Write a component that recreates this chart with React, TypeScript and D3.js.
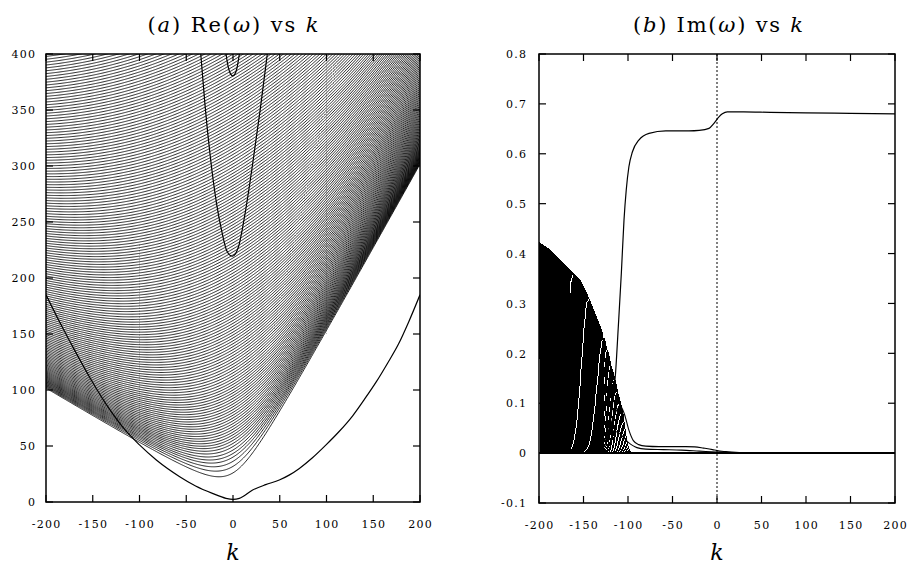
import React, { useMemo } from "react";
import * as d3 from "d3";

// ---------- axes ----------
const kTicks = [-200, -150, -100, -50, 0, 50, 100, 150, 200];
const reTicks = [0, 50, 100, 150, 200, 250, 300, 350, 400];
const imTicks = [-0.1, 0, 0.1, 0.2, 0.3, 0.4, 0.5, 0.6, 0.7, 0.8];
const imTickLabels = ["-0.1", "0", "0.1", "0.2", "0.3", "0.4", "0.5", "0.6", "0.7", "0.8"];

// ---------- panel (a): Re(omega) ----------
// drift speed of the mode family (asymptotic slopes -0.5 / +1.5)
const flowSpeed = 0.5;
// cut-off parameter of each branch of the family, read from the minima / edge crossings
const modeMass = [
  26.0, 31.8, 36.3, 40.1, 43.3, 46.4, 49.5, 52.3, 55.0, 57.5,
  60.0, 62.5, 65.0, 67.5, 70.0, 72.5, 75.0, 77.5, 80.0, 82.5,
  85.0, 87.5, 90.0, 92.5, 95.0, 97.5, 100.0, 102.5, 105.0, 107.5,
  110.1, 112.7, 115.3, 117.9, 120.5, 123.1, 125.7, 128.3, 130.9, 133.5,
  136.1, 138.7, 141.3, 143.9, 146.5, 149.1, 151.7, 154.3, 156.9, 159.5,
  162.1, 164.7, 167.3, 169.9, 172.5, 175.1, 177.7, 180.3, 182.9, 185.5,
  188.2, 190.9, 193.6, 196.3, 199.0, 201.7, 204.4, 207.1, 209.8, 212.5,
  215.2, 217.9, 220.6, 223.3, 226.0, 228.7, 231.4, 234.1, 236.8, 239.5,
  242.2, 244.9, 247.6, 250.3, 253.0, 255.7, 258.4, 261.1, 263.8, 266.5,
  269.2, 271.9, 274.6, 277.3, 280.0, 282.7, 285.4, 288.1, 290.8, 293.5,
  296.3, 299.1, 301.9, 304.7, 307.5, 310.3, 313.1, 315.9, 318.7, 321.5,
  324.3, 327.1, 329.9, 332.7, 335.5, 338.3, 341.1, 343.9, 346.7, 349.5,
  352.3, 355.1, 357.9, 360.7, 363.5, 366.3, 369.1, 371.9, 374.7, 377.5,
  380.3, 383.1, 385.9, 388.7, 391.5, 394.3, 397.1, 399.9, 402.7, 405.5,
  408.3, 411.1, 413.9, 416.7, 419.5, 422.3, 425.1, 427.9, 430.7, 433.5,
  436.3, 439.1, 441.9, 444.7, 447.5, 450.3, 453.1, 455.9, 458.7, 461.5,
];
// lowest (V-shaped) branch
const vBranchK = [-200, -185, -170, -153, -135, -114, -100, -82, -57, -40, -22, -7.5, 0, 6.8, 21, 35, 49.5, 60, 71, 85, 99.5, 113, 128, 140, 153, 165, 177, 188, 200];
const vBranchRe = [185, 160, 136.5, 111, 86.5, 63, 51, 37.5, 22.6, 14.3, 7.7, 3.3, 2.4, 3.3, 10.7, 15.5, 19.6, 24, 30, 39.5, 51, 62.5, 77, 91, 107, 123.5, 141, 161, 185];
// narrow U branch
const uBranchK = [-34.5, -30, -24.6, -17.5, -12.1, -6.7, -0.7, 5.7, 12.8, 20, 28.9, 36.7];
const uBranchRe = [400, 355, 310.7, 266, 242, 224.4, 219.4, 227.4, 257, 296, 349, 400];
// small U at the top
const topUK = [-7.5, -5, -2.5, -0.3, 2, 4, 6.8];
const topURe = [400, 388, 382, 380.5, 382, 386.6, 400];

// ---------- panel (b): Im(omega) ----------
const envelopeK = [-200, -190, -180, -170, -160, -154, -147, -139, -131, -125, -119.5, -114, -110, -106, -100];
const envelopeIm = [0.422, 0.41, 0.394, 0.376, 0.357, 0.346, 0.322, 0.288, 0.252, 0.222, 0.182, 0.142, 0.108, 0.08, 0.05];
const onsetK = [
  -199.5, -198.6, -197.6, -196.7, -195.7, -194.8, -193.8, -192.9, -191.9, -191.0,
  -190.0, -189.1, -188.1, -187.2, -186.2, -185.3, -184.3, -183.4, -182.4, -181.5,
  -180.5, -179.6, -178.6, -177.7, -176.7, -175.8, -174.8, -173.8, -172.8, -171.8,
  -170.8, -169.8, -168.7, -167.6, -166.5, -165.4, -164.2, -163.0, -161.8, -160.6,
  -159.4, -158.2, -157.0, -155.8, -154.6, -153.4, -152.2, -151.0, -149.8, -148.6,
  -147.4, -146.2, -145.0, -143.8, -142.6, -141.4, -140.2, -139.0, -137.8, -136.6,
  -135.4, -134.2, -133.0, -131.8, -130.6, -129.4, -128.2,
];
const fanPeakK = [-126.8, -125.4, -124.0, -122.6, -121.2, -119.8, -118.4, -117.0, -115.6, -114.2, -112.8, -111.4, -110.0, -108.6];
const fanTailWidth = [2.0, 2.3, 2.6, 2.9, 3.2, 3.5, 3.8, 4.1, 4.4, 4.7, 5.0, 5.4, 5.8, 6.2];
// strongly unstable branch
const growK = [-140, -128, -122, -118, -114, -111, -107.5, -104.5, -102, -99, -95, -87.6, -76.4, -57.6, -40, -31.5, -20, -9, -3.4, 2.2, 6, 11.6, 30, 60, 99.6, 150, 200];
const growIm = [0, 0.01, 0.04, 0.09, 0.16, 0.25, 0.36, 0.467, 0.527, 0.574, 0.604, 0.628, 0.641, 0.646, 0.646, 0.646, 0.647, 0.651, 0.661, 0.674, 0.68, 0.684, 0.684, 0.683, 0.682, 0.681, 0.68];
// weak tails
const tailAK = [-135, -125, -118, -112, -108, -104, -99, -94, -88, -80, -65, -50, -35, -25, -15, -5, 0, 10, 25, 40, 60, 200];
const tailAIm = [0, 0.03, 0.065, 0.088, 0.093, 0.078, 0.046, 0.025, 0.017, 0.014, 0.013, 0.013, 0.013, 0.0125, 0.01, 0.007, 0.005, 0.003, 0.0012, 0.0003, 0, 0];
const tailBK = [-135, -125, -118, -110, -100, -90, -80, -60, -40, -20, 0, 20, 40, 200];
const tailBIm = [0, 0.03, 0.045, 0.04, 0.022, 0.011, 0.008, 0.007, 0.006, 0.004, 0.002, 0.0006, 0, 0];

const FONT = "'DejaVu Serif', serif";

export default function App() {
  const xL = d3.scaleLinear().domain([-200, 200]).range([46, 420]);
  const yL = d3.scaleLinear().domain([0, 400]).range([502, 54]);
  const xR = d3.scaleLinear().domain([-200, 200]).range([539, 895]);
  const yR = d3.scaleLinear().domain([-0.1, 0.8]).range([503, 54]);

  const paths = useMemo(() => {
    const ks = d3.range(-200, 200.001, 1);
    const lineL = d3
      .line<[number, number]>()
      .defined((d) => d[1] <= 430)
      .x((d) => xL(d[0]))
      .y((d) => yL(d[1]));
    const family = modeMass
      .map((m) => lineL(ks.map((k) => [k, flowSpeed * k + Math.sqrt(k * k + m * m)] as [number, number])))
      .join("");
    const smooth = d3
      .line<[number, number]>()
      .curve(d3.curveMonotoneX)
      .x((d) => xL(d[0]))
      .y((d) => yL(d[1]));
    const vPath = smooth(vBranchK.map((k, i) => [k, vBranchRe[i]]));
    const uPath = smooth(uBranchK.map((k, i) => [k, uBranchRe[i]]));
    const tPath = smooth(topUK.map((k, i) => [k, topURe[i]]));

    const env = d3.scaleLinear().domain(envelopeK).range(envelopeIm).clamp(true);
    const lineR = d3
      .line<[number, number]>()
      .x((d) => xR(d[0]))
      .y((d) => yR(d[1]));
    const mainParts: string[] = [];
    onsetK.forEach((kp) => {
      const pts: [number, number][] = [];
      for (let k = -200; k < kp; k += 1) pts.push([k, env(k)]);
      const h = env(kp);
      pts.push([kp, h]);
      const tau = 0.7;
      for (let j = 1; j <= 12; j++) pts.push([kp + (j * tau) / 4, h * Math.exp(-((j / 4) ** 2))]);
      pts.push([200, 0]);
      mainParts.push(lineR(pts) as string);
    });
    fanPeakK.forEach((kp, i) => {
      const pts: [number, number][] = [[-200, 0]];
      const h = env(kp);
      const wl = 8;
      for (let j = -12; j <= 0; j++) pts.push([kp + (j * wl) / 4, h * Math.exp(-((j / 4) ** 2))]);
      const tau = fanTailWidth[i];
      for (let j = 1; j <= 16; j++) pts.push([kp + (j * tau) / 4, h * Math.exp(-((j / 4) ** 2))]);
      pts.push([200, 0]);
      mainParts.push(lineR(pts) as string);
    });
    const smoothR = d3
      .line<[number, number]>()
      .curve(d3.curveMonotoneX)
      .x((d) => xR(d[0]))
      .y((d) => yR(d[1]));
    const growPath = smoothR(growK.map((k, i) => [k, growIm[i]]));
    const tailAPath = smoothR(tailAK.map((k, i) => [k, tailAIm[i]]));
    const tailBPath = smoothR(tailBK.map((k, i) => [k, tailBIm[i]]));
    return { family, vPath, uPath, tPath, imFamily: mainParts.join(""), growPath, tailAPath, tailBPath };
  }, []);

  const tickLen = 7;
  const tickStyle = { stroke: "#000", strokeWidth: 1.2 };
  const labelStyle: React.CSSProperties = { fontFamily: FONT, fontSize: 11, letterSpacing: "1.3px", fontWeight: 400 };

  const panelFrame = (
    x: d3.ScaleLinear<number, number>,
    y: d3.ScaleLinear<number, number>,
    yTicks: number[],
    yLabels: string[],
    yLabelX: number
  ) => {
    const [x0, x1] = x.range();
    const [y0, y1] = y.range();
    return (
      <g>
        {kTicks.map((t) => (
          <g key={"xt" + t}>
            <line x1={x(t)} x2={x(t)} y1={y0} y2={y0 - tickLen} {...tickStyle} />
            <line x1={x(t)} x2={x(t)} y1={y1} y2={y1 + tickLen} {...tickStyle} />
            <text x={x(t) + 0.65} y={y0 + 26} textAnchor="middle" style={labelStyle}>
              {String(t)}
            </text>
          </g>
        ))}
        {yTicks.map((t, i) => (
          <g key={"yt" + t}>
            <line x1={x0} x2={x0 + tickLen} y1={y(t)} y2={y(t)} {...tickStyle} />
            <line x1={x1} x2={x1 - tickLen} y1={y(t)} y2={y(t)} {...tickStyle} />
            <text x={yLabelX + 1.3} y={y(t) + 4.2} textAnchor="end" style={labelStyle}>
              {yLabels[i]}
            </text>
          </g>
        ))}
        <rect x={x0} y={y1} width={x1 - x0} height={y0 - y1} fill="none" stroke="#000" strokeWidth={1.5} />
      </g>
    );
  };

  return (
    <svg
      width={913}
      height={565}
      viewBox="0 0 913 565"
      style={{ position: "absolute", left: 0, top: 0, background: "#fff" }}
    >
      <rect width={913} height={565} fill="#fff" />
      <defs>
        <clipPath id="clipL">
          <rect x={46} y={54} width={374} height={448} />
        </clipPath>
        <clipPath id="clipR">
          <rect x={539} y={54} width={356} height={449} />
        </clipPath>
      </defs>

      {/* panel (a) */}
      <g clipPath="url(#clipL)" fill="none" stroke="#000">
        <path d={paths.family} strokeWidth={0.85} />
        <line x1={xL(-100)} x2={xL(-100)} y1={yL(230)} y2={yL(60)} strokeWidth={0.8} strokeOpacity={0.35} strokeDasharray="1.5,1.5" />
        <line x1={xL(100)} x2={xL(100)} y1={yL(400)} y2={yL(150)} strokeWidth={0.8} strokeOpacity={0.35} strokeDasharray="1.5,1.5" />
        <path d={paths.vPath ?? ""} strokeWidth={1.2} />
        <path d={paths.uPath ?? ""} strokeWidth={1.2} />
        <path d={paths.tPath ?? ""} strokeWidth={1.2} />
      </g>
      {panelFrame(xL, yL, reTicks, reTicks.map(String), 35)}

      {/* panel (b) */}
      <g clipPath="url(#clipR)" fill="none" stroke="#000">
        <path d={paths.imFamily} strokeWidth={1} shapeRendering="crispEdges" />
        <path d={paths.tailBPath ?? ""} strokeWidth={1.1} />
        <path d={paths.tailAPath ?? ""} strokeWidth={1.1} />
        <path d={paths.growPath ?? ""} strokeWidth={1.2} />
        <line x1={xR(-200)} x2={xR(200)} y1={yR(0)} y2={yR(0)} strokeWidth={2} />
        <line x1={xR(0)} x2={xR(0)} y1={yR(0.8)} y2={yR(-0.1)} strokeWidth={1} strokeDasharray="2,2" />
      </g>
      {panelFrame(xR, yR, imTicks, imTickLabels, 526)}

      {/* titles */}
      <text x={233} y={32} textAnchor="middle" fontFamily={FONT} fontSize={21} fontWeight={400} textLength={171} lengthAdjust="spacing">
        <tspan>(</tspan>
        <tspan fontStyle="italic">a</tspan>
        <tspan>) Re(</tspan>
        <tspan fontStyle="italic">ω</tspan>
        <tspan>) vs </tspan>
        <tspan fontStyle="italic">k</tspan>
      </text>
      <text x={718} y={32} textAnchor="middle" fontFamily={FONT} fontSize={21} fontWeight={400} textLength={170} lengthAdjust="spacing">
        <tspan>(</tspan>
        <tspan fontStyle="italic">b</tspan>
        <tspan>) Im(</tspan>
        <tspan fontStyle="italic">ω</tspan>
        <tspan>) vs </tspan>
        <tspan fontStyle="italic">k</tspan>
      </text>
      <text x={233} y={560} textAnchor="middle" fontFamily={FONT} fontSize={22} fontStyle="italic">
        k
      </text>
      <text x={717} y={560} textAnchor="middle" fontFamily={FONT} fontSize={22} fontStyle="italic">
        k
      </text>
    </svg>
  );
}
